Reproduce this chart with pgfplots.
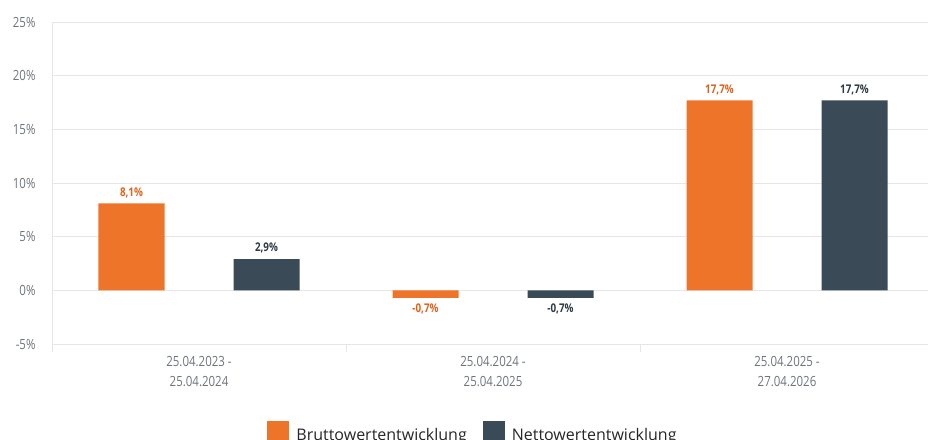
\documentclass[border=0pt]{standalone}
\usepackage{fontspec}
\setmainfont{Open Sans}
\newfontfamily\cond[FakeStretch=0.82]{Open Sans}
\usepackage{pgfplots}
\pgfplotsset{compat=1.18}
\definecolor{bOrange}{HTML}{EE742A}
\definecolor{bDark}{HTML}{3A4A56}
\definecolor{lOrange}{HTML}{DD631B}
\definecolor{lDark}{HTML}{2E3A44}
\definecolor{tickgray}{HTML}{6D757D}
\definecolor{gridgray}{HTML}{E6E6E6}
\begin{document}
\begin{tikzpicture}
\useasboundingbox (-52pt,-95pt) rectangle (876pt,344pt);
\clip (-52pt,-95pt) rectangle (876pt,344pt);
\begin{axis}[
  scale only axis, width=882pt, height=322pt,
  xmin=-0.5, xmax=2.5, ymin=-5, ymax=25,
  ytick={-5,0,5,10,15,20,25},
  yticklabel={\pgfmathprintnumber[assume math mode=true]{\tick}\%},
  xtick={0,1,2},
  xticklabels={{25.04.2023 -\\25.04.2024},{25.04.2024 -\\25.04.2025},{25.04.2025 -\\27.04.2026}},
  minor xtick={-0.5,0.5,1.5},
  major tick length=0pt, minor tick length=8pt, tick align=outside,
  minor tick style={gridgray, line width=0.8pt},
  ymajorgrids, grid style={gridgray, line width=0.8pt},
  axis lines*=left, axis line style={gridgray, line width=0.8pt},
  ticklabel style={font=\cond\fontsize{14}{20}\selectfont, text=tickgray},
  yticklabel style={xshift=-13pt},
  xticklabel style={align=center, yshift=-9pt},
  ybar=69pt, bar width=66pt,
  nodes near coords={\pgfmathprintnumber[use comma,fixed,precision=1,fixed zerofill,assume math mode=true]{\pgfplotspointmeta}\%},
  nodes near coords style={font=\cond\bfseries\fontsize{12}{13}\selectfont, inner ysep=5.5pt},
  legend style={at={(0.4773,-0.233)}, anchor=north, draw=none, fill=none,
    legend columns=2, font=\fontsize{16}{19}\selectfont, text=black!85,
    /tikz/every even column/.append style={column sep=14pt},
    /tikz/every odd column/.append style={column sep=5pt}},
  legend image code/.code={\fill[#1] (0pt,-8.5pt) rectangle (22pt,13.5pt);},
]
\addplot[fill=bOrange, draw=none, every node near coord/.append style={text=lOrange}]
  coordinates {(0,8.1) (1,-0.7) (2,17.7)};
\addplot[fill=bDark, draw=none, every node near coord/.append style={text=lDark}]
  coordinates {(0,2.9) (1,-0.7) (2,17.7)};
\legend{Bruttowertentwicklung, Nettowertentwicklung}
\end{axis}
\end{tikzpicture}
\end{document}
